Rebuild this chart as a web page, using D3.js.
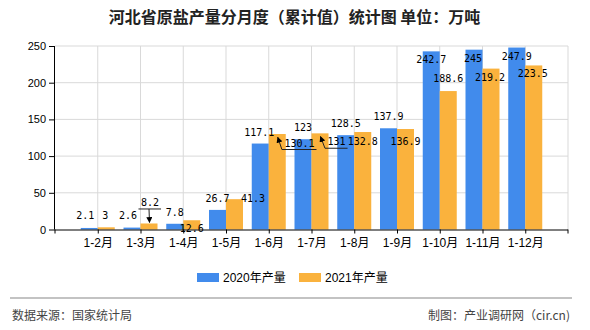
<!DOCTYPE html>
<html><head><meta charset="utf-8">
<script src="https://cdn.jsdelivr.net/npm/d3@7/dist/d3.min.js"></script>
<style>body{margin:0;background:#fff}svg{display:block}</style>
</head><body><svg id="c" width="590" height="330"></svg>
<script>
const categories = ["1-2月","1-3月","1-4月","1-5月","1-6月","1-7月","1-8月","1-9月","1-10月","1-11月","1-12月"];
const values2020 = [2.1, 2.6, 7.8, 26.7, 117.1, 123, 128.5, 137.9, 242.7, 245, 247.9];
const values2021 = [3, 8.2, 12.6, 41.3, 130.1, 131, 132.8, 136.9, 188.6, 219.2, 223.5];
const seriesNames = ["2020年产量", "2021年产量"];
const yTicks = [0, 50, 100, 150, 200, 250];

// layout-only label nudges (dx, dy of label centre from bar centre / bar top)
const nudge2020 = [[-4,-12.5],[-4,-12.5],[0,-11.7],[0,-11.7],[-1,-11.4],[0,-12],[0,-12],[0,-12],[0,8],[-1,9],[0,8.5]];
const nudge2021 = [[-1,-12],[1,-21],[0,8],[18.5,-1],[22.2,9],[16.5,8.4],[0,9],[0,12],[0,-13],[-1,8.5],[-1,8.5]];
const leaders2021 = {1: "vertical", 4: "angled", 5: "angled"};

const colors = ["#418BEC", "#FAB23D"];
const svg = d3.select("#c");
const L = 55, R = 568, T = 46, B = 229.5;

const x = d3.scalePoint().domain(categories).range([L, R]).padding(1);
const y = d3.scaleLinear().domain([0, 250]).range([B, T]);
const bw = 17;

// grid
const g = svg.append("g");
g.selectAll(".hg").data(yTicks.filter(d => d > 0)).join("line")
  .attr("x1", L).attr("x2", R).attr("y1", d => y(d)).attr("y2", d => y(d))
  .attr("stroke", "#d9d9d9").attr("stroke-width", 1);
g.selectAll(".vg").data(categories).join("line")
  .attr("x1", d => x(d)).attr("x2", d => x(d)).attr("y1", T).attr("y2", B)
  .attr("stroke", "#d9d9d9");
g.append("line").attr("x1", R).attr("x2", R).attr("y1", T).attr("y2", B).attr("stroke", "#d9d9d9");

// bars
const series = [values2020, values2021];
series.forEach((vals, s) => {
  svg.append("g").selectAll("rect").data(vals).join("rect")
    .attr("x", (d, i) => x(categories[i]) - bw + s * bw)
    .attr("y", d => y(d))
    .attr("width", bw)
    .attr("height", d => B - y(d))
    .attr("fill", colors[s]);
});

// axes
const yAxis = d3.axisLeft(y).tickValues(yTicks).tickSize(6).tickPadding(3);
const ya = svg.append("g").attr("transform", `translate(${L},0)`).call(yAxis);
ya.select(".domain").attr("stroke", "#000").attr("d", `M-0.5,${T}V${B}`);
ya.selectAll("line").attr("stroke", "#000");
ya.selectAll("text").attr("font-family", "Liberation Sans, Arial, sans-serif").attr("font-size", 11).attr("fill", "#000");

const xAxis = d3.axisBottom(x).tickSize(4).tickPadding(5);
const xa = svg.append("g").attr("transform", `translate(0,${B})`).call(xAxis);
xa.select(".domain").attr("stroke", "#000").attr("d", `M${L},0.5H${R}`);
xa.selectAll("line").attr("stroke", "#000");
xa.selectAll("text").attr("font-family", "Liberation Sans, Arial, 'Noto Sans CJK SC', sans-serif").attr("font-size", 12).attr("fill", "#000");
[L, R].forEach(px => xa.append("line").attr("x1", px).attr("x2", px).attr("y1", 0).attr("y2", 4).attr("stroke", "#000"));

// arrow marker
svg.append("defs").append("marker").attr("id", "arr")
  .attr("viewBox", "0 0 10 10").attr("refX", 9).attr("refY", 5)
  .attr("markerWidth", 6).attr("markerHeight", 6).attr("orient", "auto")
  .append("path").attr("d", "M0,0L10,5L0,10z").attr("fill", "#000");

// labels
const lab = svg.append("g").attr("font-family", "'DejaVu Sans Mono', 'Liberation Mono', monospace").attr("font-size", 10).attr("fill", "#000");
series.forEach((vals, s) => {
  const nudges = s === 0 ? nudge2020 : nudge2021;
  vals.forEach((v, i) => {
    const bx = x(categories[i]) - bw / 2 + s * bw;
    const by = y(v);
    const lx = bx + nudges[i][0], ly = by + nudges[i][1];
    const t = lab.append("text").attr("x", lx).attr("y", ly).attr("dy", "0.35em")
      .attr("text-anchor", "middle").text(String(v));
    if (s === 1 && leaders2021[i]) {
      const w = t.node().getComputedTextLength();
      const uy = ly + 6.5;
      const x0 = lx - w / 2 - 2.5, x1 = lx + w / 2 + 2;
      lab.append("line").attr("x1", x0).attr("x2", x1).attr("y1", uy).attr("y2", uy)
        .attr("stroke", "#222").attr("stroke-width", 1);
      const sx = leaders2021[i] === "vertical" ? bx : x0;
      lab.append("line").attr("x1", sx).attr("y1", uy).attr("x2", bx + 0.5)
        .attr("y2", leaders2021[i] === "vertical" ? by - 1 : by + 3.2)
        .attr("stroke", "#222").attr("stroke-width", 1).attr("marker-end", "url(#arr)");
    }
  });
});

// title
svg.append("text").attr("x", 294.5).attr("y", 23).attr("text-anchor", "middle")
  .attr("font-family", "'Noto Sans CJK SC', sans-serif").attr("font-size", 16).attr("font-weight", "bold")
  .attr("fill", "#222").text("河北省原盐产量分月度（累计值）统计图 单位：万吨");

// legend
const leg = svg.append("g");
const legX = [197, 299];
seriesNames.forEach((n, s) => {
  leg.append("rect").attr("x", legX[s]).attr("y", 273).attr("width", 22).attr("height", 9).attr("fill", colors[s]);
  leg.append("text").attr("x", legX[s] + 26).attr("y", 282)
    .attr("font-family", "Liberation Sans, Arial, 'Noto Sans CJK SC', sans-serif").attr("font-size", 12)
    .attr("fill", "#000").text(n);
});

// footer
svg.append("line").attr("x1", 10).attr("x2", 572).attr("y1", 298).attr("y2", 298).attr("stroke", "#888").attr("stroke-width", 1.2);
svg.append("text").attr("x", 12).attr("y", 320).attr("font-family", "'Noto Sans CJK SC', sans-serif")
  .attr("font-size", 12).attr("fill", "#444").text("数据来源：国家统计局");
svg.append("text").attr("x", 570).attr("y", 320).attr("text-anchor", "end").attr("font-family", "'Noto Sans CJK SC', sans-serif")
  .attr("font-size", 12).attr("fill", "#444").text("制图：产业调研网（cir.cn)");
</script></body></html>
